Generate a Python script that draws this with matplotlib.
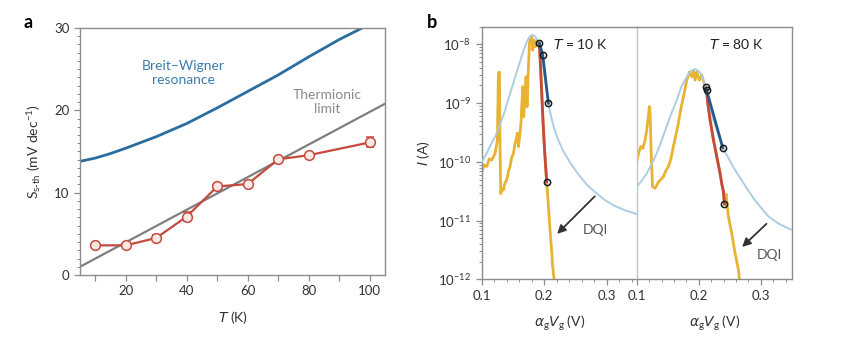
import numpy as np
import matplotlib
matplotlib.use("Agg")
import matplotlib.pyplot as plt
from matplotlib.ticker import MultipleLocator, LogLocator, NullFormatter, FormatStrFormatter

plt.rcParams['font.family'] = ['Lato', 'DejaVu Sans']
plt.rcParams['mathtext.fontset'] = 'dejavusans'
plt.rcParams['mathtext.default'] = 'regular'

# ---------------- Panel a data ----------------
T_meas = [10, 20, 30, 40, 50, 60, 70, 80, 100]
S_meas = [3.6, 3.6, 4.5, 7.1, 10.75, 11.05, 14.05, 14.55, 16.1]
S_err = [0.25, 0.2, 0.3, 0.55, 0.4, 0.4, 0.3, 0.25, 0.6]

T_bw = [5, 10, 15, 20, 25, 30, 35, 40, 45, 50, 55, 60, 65, 70, 75, 80, 85, 90, 97.5]
S_bw = [13.8, 14.2, 14.75, 15.4, 16.1, 16.8, 17.6, 18.4, 19.35, 20.3, 21.3, 22.3,
        23.3, 24.3, 25.4, 26.5, 27.55, 28.6, 30.0]

T_th = [5, 105]
S_th = [1.0, 20.8]

# ---------------- Panel b data (10 K) ----------------
x10_data = [0.100, 0.104, 0.108, 0.112, 0.116, 0.1213, 0.125, 0.1267, 0.1283, 0.1293,
            0.1304, 0.1325, 0.1347, 0.137, 0.140, 0.143, 0.1453, 0.148, 0.1507, 0.153,
            0.155, 0.157, 0.1587, 0.1613, 0.163, 0.164, 0.1656, 0.1672, 0.1693, 0.1709,
            0.1725, 0.1747, 0.1763, 0.1779, 0.180, 0.1816, 0.1837, 0.1859, 0.188, 0.1907,
            0.1922, 0.1950, 0.1980, 0.2005, 0.2039, 0.2067, 0.2104, 0.2125, 0.2130,
            0.2136, 0.2157]
logI10_data = [-10.17, -10.05, -10.08, -9.95, -9.97, -9.86, -9.63, -8.49, -8.47, -9.80,
               -10.54, -10.45, -10.48, -10.36, -10.31, -10.15, -10.08, -9.92, -9.86, -9.70,
               -9.63, -9.51, -9.74, -9.51, -9.30, -9.06, -8.72, -9.23, -8.83, -8.55,
               -9.06, -8.38, -7.98, -7.87, -7.86, -8.10, -7.93, -8.04, -7.93, -8.00,
               -7.98, -8.60, -9.30, -9.80, -10.34, -10.76, -11.33, -11.60, -11.75,
               -11.78, -12.0]
x10_red = [0.1922, 0.1950, 0.1980, 0.2005, 0.2039]
logI10_red = [-7.98, -8.60, -9.30, -9.80, -10.34]
x10_blue = [0.1922, 0.1976, 0.2066]
logI10_blue = [-7.98, -8.18, -9.00]
x10_fit = [0.100, 0.107, 0.113, 0.124, 0.135, 0.145, 0.156, 0.167, 0.172, 0.176,
           0.180, 0.184, 0.187, 0.1907, 0.1947, 0.1987, 0.2027, 0.2066, 0.2108, 0.215,
           0.222, 0.2306, 0.2435, 0.2573, 0.270, 0.284, 0.297, 0.3106, 0.328, 0.348]
logI10_fit = [-10.0, -9.87, -9.74, -9.51, -9.20, -8.85, -8.47, -8.10, -7.96, -7.88,
              -7.84, -7.85, -7.89, -7.97, -8.14, -8.40, -8.72, -9.00, -9.22, -9.40,
              -9.62, -9.82, -10.05, -10.25, -10.41, -10.54, -10.65, -10.74, -10.82,
              -10.89]
x10_dots = [0.1922, 0.1976, 0.2066, 0.2039]
logI10_dots = [-7.98, -8.18, -9.00, -10.34]

# ---------------- Panel b data (80 K) ----------------
x80_data = [0.100, 0.1027, 0.1065, 0.1097, 0.1134, 0.1161, 0.1204, 0.1215, 0.1231,
            0.1253, 0.1296, 0.135, 0.139, 0.143, 0.147, 0.151, 0.155, 0.159, 0.163,
            0.1672, 0.171, 0.1753, 0.1806, 0.185, 0.1887, 0.1914, 0.194, 0.1968, 0.201,
            0.2048, 0.2086, 0.2118, 0.2183, 0.2237, 0.229, 0.2344, 0.237, 0.2398, 0.2414,
            0.2440, 0.2478, 0.2532, 0.2586, 0.264, 0.2656]
logI80_data = [-10.0, -9.86, -9.74, -9.77, -9.63, -9.46, -9.06, -9.17, -9.80,
               -10.42, -10.45, -10.34, -10.30, -10.25, -10.15, -10.08, -9.95, -9.74,
               -9.55, -9.34, -9.10, -8.89, -8.61, -8.47, -8.55, -8.44, -8.61, -8.47,
               -8.61, -8.52, -8.66, -8.75, -9.29, -9.63, -9.91, -10.20, -10.37, -10.51,
               -10.72, -10.55, -10.93, -11.22, -11.56, -11.84, -12.0]
x80_red = [0.2118, 0.2150, 0.2183, 0.2237, 0.229, 0.2344, 0.237, 0.2398, 0.2414]
logI80_red = [-8.75, -9.05, -9.29, -9.63, -9.91, -10.20, -10.37, -10.51, -10.72]
x80_blue = [0.2118, 0.2387]
logI80_blue = [-8.75, -9.76]
x80_fit = [0.100, 0.108, 0.116, 0.124, 0.132, 0.140, 0.148, 0.156, 0.1645, 0.172,
           0.1806, 0.187, 0.194, 0.1995, 0.2048, 0.2129, 0.2237, 0.2387, 0.2574,
           0.2774, 0.2910, 0.3043, 0.3124, 0.330, 0.35]
logI80_fit = [-10.42, -10.32, -10.20, -10.04, -9.86, -9.64, -9.40, -9.17, -8.95, -8.72,
              -8.55, -8.46, -8.42, -8.45, -8.52, -8.80, -9.30, -9.76, -10.12,
              -10.45, -10.66, -10.83, -10.93, -11.06, -11.16]
x80_dots = [0.2118, 0.2125, 0.2387, 0.2414]
logI80_dots = [-8.72, -8.78, -9.76, -10.72]

# ---------------- colours ----------------
c_bw = '#2a6d9e'
c_th = '#7f7f7f'
c_red = '#c24a3e'
c_yel = '#e8b233'
c_lb = '#a8cbe0'
c_db = '#24598a'
c_spine = '#8c8c8c'

fig = plt.figure(figsize=(8.68, 3.52), dpi=100)

def style_axes(ax):
    for s in ax.spines.values():
        s.set_color(c_spine)
        s.set_linewidth(1.0)
    ax.tick_params(which='both', direction='out', color=c_spine, labelcolor='#333333',
                   labelsize=9.5)
    ax.tick_params(which='major', length=4, width=0.9)
    ax.tick_params(which='minor', length=2, width=0.7)

# ---------------- Panel a ----------------
axa = fig.add_axes([0.0922, 0.2188, 0.3514, 0.7017])
style_axes(axa)
axa.plot(T_bw, S_bw, color=c_bw, lw=2.0, zorder=2)
axa.plot(T_th, S_th, color=c_th, lw=1.6, zorder=2)
axa.errorbar(T_meas, S_meas, yerr=S_err, color=c_red, lw=1.6, capsize=3, capthick=1.0,
             elinewidth=1.0, marker='o', ms=7, mfc='#fbe8e2', mec=c_red, mew=1.1, zorder=3)
axa.set_xlim(5, 105)
axa.set_ylim(0, 30)
axa.set_xticks([10, 20, 30, 40, 50, 60, 70, 80, 90, 100])
axa.set_xticklabels(['', '20', '', '40', '', '60', '', '80', '', '100'])
axa.yaxis.set_major_locator(MultipleLocator(10))
axa.yaxis.set_minor_locator(MultipleLocator(1))
axa.set_xlabel(r'$\mathit{T}$ (K)', fontsize=10, color='#333333', labelpad=8)
axa.set_ylabel(r'S$_{s\text{-}th}$ (mV dec$^{-1}$)', fontsize=10, color='#333333', labelpad=8)
axa.text(38.8, 24.5, 'Breit–Wigner\nresonance', color='#3a7caa', fontsize=10,
         ha='center', va='center', linespacing=1.2)
axa.text(86, 21.0, 'Thermionic\nlimit', color='#8a8a8a', fontsize=10,
         ha='center', va='center', linespacing=1.2)
fig.text(0.027, 0.935, 'a', fontsize=13, fontweight='bold', ha='left', va='center')

# ---------------- Panel b ----------------
axl = fig.add_axes([0.555, 0.2065, 0.1786, 0.7176])
axr = fig.add_axes([0.7336, 0.2065, 0.1786, 0.7176], sharey=axl)
for ax in (axl, axr):
    style_axes(ax)
    ax.set_yscale('log')
    ax.set_ylim(1e-12, 2e-8)
    ax.xaxis.set_major_locator(MultipleLocator(0.1))
    ax.xaxis.set_minor_locator(MultipleLocator(0.02))
    ax.xaxis.set_major_formatter(FormatStrFormatter('%.1f'))
    ax.set_xlabel(r'$\mathit{\alpha}_g\mathit{V}_g$ (V)', fontsize=10, color='#333333',
                  labelpad=8)
axl.set_xlim(0.1, 0.348)
axr.set_xlim(0.1, 0.35)
axl.yaxis.set_major_locator(LogLocator(base=10, numticks=10))
axl.yaxis.set_minor_locator(LogLocator(base=10, subs=np.arange(2, 10), numticks=10))
axl.yaxis.set_minor_formatter(NullFormatter())
axl.spines['right'].set_visible(False)
axr.spines['left'].set_color('#c4c4c4')
axr.tick_params(axis='y', which='both', left=False, labelleft=False)
axl.set_ylabel(r'$\mathit{I}$ (A)', fontsize=10, color='#333333', labelpad=4)

def draw(ax, xd, ld, xr, lr, xb, lb, xf, lf, xdot, ldot):
    p = lambda v: np.power(10.0, v)
    ax.plot(xd, p(np.array(ld)), color=c_yel, lw=2.0, zorder=2, solid_joinstyle='round')
    ax.plot(xf, p(np.array(lf)), color=c_lb, lw=1.4, zorder=3, alpha=0.95)
    ax.plot(xr, p(np.array(lr)), color=c_red, lw=2.0, zorder=4)
    ax.plot(xb, p(np.array(lb)), color=c_db, lw=2.0, zorder=5)
    ax.plot(xdot, p(np.array(ldot)), ls='none', marker='o', ms=4.5, mfc='none',
            mec='#1a1a1a', mew=1.1, zorder=6)

draw(axl, x10_data, logI10_data, x10_red, logI10_red, x10_blue, logI10_blue,
     x10_fit, logI10_fit, x10_dots, logI10_dots)
draw(axr, x80_data, logI80_data, x80_red, logI80_red, x80_blue, logI80_blue,
     x80_fit, logI80_fit, x80_dots, logI80_dots)

arrow_kw = dict(arrowstyle='-|>,head_length=0.5,head_width=0.25', color='#333333', lw=1.3)
axl.annotate('', xy=(0.2175, 5.5e-12), xytext=(0.284, 2.8e-11), arrowprops=arrow_kw)
axl.text(0.281, 7e-12, 'DQI', fontsize=10, color='#555555', ha='center', va='center')
axr.annotate('', xy=(0.2667, 3.3e-12), xytext=(0.3124, 9.5e-12), arrowprops=arrow_kw)
axr.text(0.3134, 2.6e-12, 'DQI', fontsize=10, color='#555555', ha='center', va='center')

axl.text(0.257, 1.0e-8, r'$\mathit{T}$ = 10 K', fontsize=10, color='#222222',
         ha='center', va='center')
axr.text(0.261, 1.0e-8, r'$\mathit{T}$ = 80 K', fontsize=10, color='#222222',
         ha='center', va='center')
fig.text(0.492, 0.935, 'b', fontsize=13, fontweight='bold', ha='left', va='center')

fig.savefig('out.png', dpi=100)
